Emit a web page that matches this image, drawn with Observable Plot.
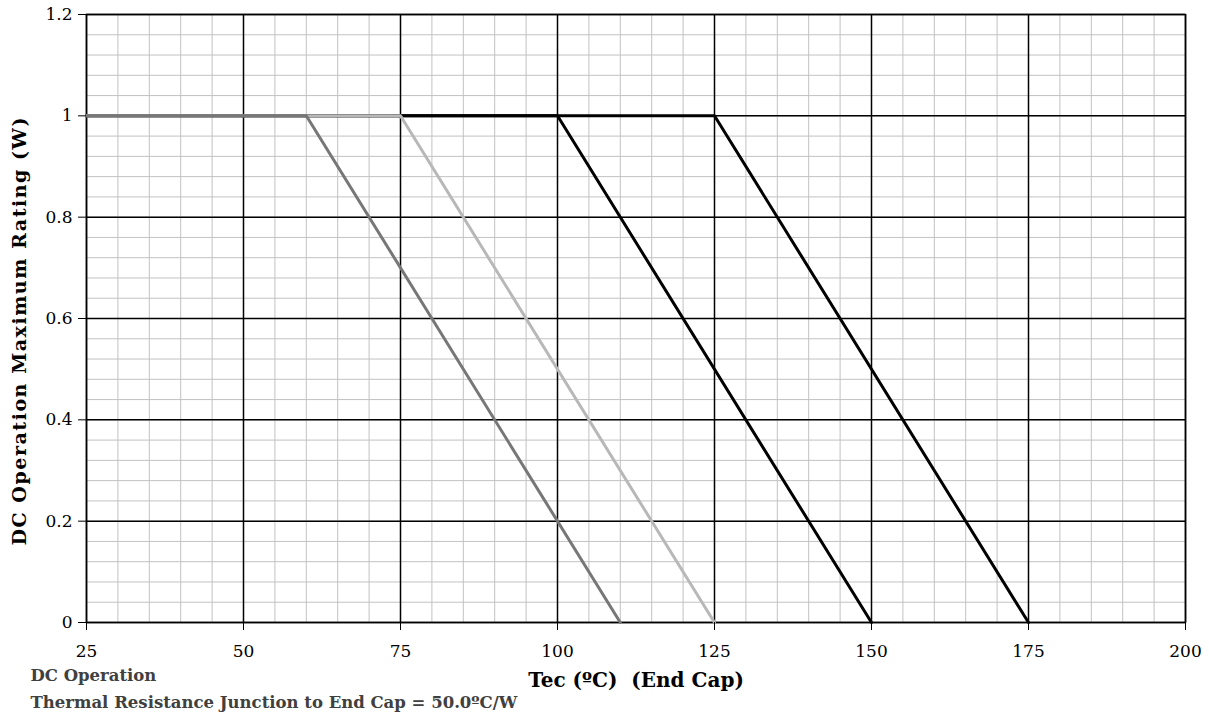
<!DOCTYPE html>
<html><head><meta charset="utf-8">
<script src="https://cdn.jsdelivr.net/npm/d3@7"></script>
<script src="https://cdn.jsdelivr.net/npm/@observablehq/plot@0.6"></script>
<style>body{margin:0;background:#fff}</style>
</head><body><div id="chart"></div>
<script>
const xTicks = [25, 50, 75, 100, 125, 150, 175, 200];
const yTicks = [0, 0.2, 0.4, 0.6, 0.8, 1, 1.2];
const xMinor = d3.range(25, 201, 5);
const yMinor = d3.range(0, 1.2001, 0.04);
const seriesA = [{x:25,y:1},{x:60,y:1},{x:110,y:0}];   // dark grey
const seriesB = [{x:25,y:1},{x:75,y:1},{x:125,y:0}];   // light grey
const seriesC = [{x:25,y:1},{x:100,y:1},{x:150,y:0}];  // black
const seriesD = [{x:25,y:1},{x:125,y:1},{x:175,y:0}];  // black
const xLabel = "Tec (ºC)  (End Cap)";
const yLabel = "DC Operation Maximum Rating (W)";
const footer = ["DC Operation", "Thermal Resistance Junction to End Cap = 50.0ºC/W"];
const font = "'DejaVu Serif', 'Liberation Serif', serif";
const fmt = d => String(+d.toFixed(1));

const chart = Plot.plot({
  width: 1209, height: 721,
  marginLeft: 86, marginRight: 24, marginTop: 14, marginBottom: 99,
  style: {fontFamily: font, fontSize: "17px", color: "#000", background: "#fff"},
  x: {domain: [25, 200]},
  y: {domain: [0, 1.2]},
  marks: [
    Plot.ruleX(xMinor, {stroke: "#c2c2c2", strokeWidth: 1}),
    Plot.ruleY(yMinor, {stroke: "#c2c2c2", strokeWidth: 1}),
    Plot.ruleX(xTicks, {stroke: "#000", strokeWidth: 1.5}),
    Plot.ruleY(yTicks, {stroke: "#000", strokeWidth: 1.5}),
    Plot.frame({stroke: "#000", strokeWidth: 1.5}),
    Plot.line(seriesD, {x: "x", y: "y", stroke: "#000", strokeWidth: 3}),
    Plot.line(seriesC, {x: "x", y: "y", stroke: "#000", strokeWidth: 3}),
    Plot.line(seriesB, {x: "x", y: "y", stroke: "#b8b8b8", strokeWidth: 3}),
    Plot.line(seriesA, {x: "x", y: "y", stroke: "#777777", strokeWidth: 3}),
    Plot.axisX({ticks: xTicks, tickSize: 8, tickPadding: 14, fontSize: 17, label: null, tickFormat: fmt}),
    Plot.axisY({ticks: yTicks, tickSize: 8, tickPadding: 6, fontSize: 17, label: null, tickFormat: fmt}),
    Plot.text([xLabel], {frameAnchor: "bottom", textAnchor: "middle", dy: 64, fontWeight: "bold", fontSize: 20, fill: "#000"}),
    Plot.text([yLabel], {frameAnchor: "left", textAnchor: "middle", dx: -67, dy: 13, rotate: -90, fontWeight: "bold", fontSize: 19, fill: "#000"}),
    Plot.text([footer[0]], {frameAnchor: "bottom-left", dx: -56, dy: 58, textAnchor: "start", fontWeight: "bold", fontSize: 16.5, fill: "#404040"}),
    Plot.text([footer[1]], {frameAnchor: "bottom-left", dx: -56, dy: 85, textAnchor: "start", fontWeight: "bold", fontSize: 16.5, fill: "#404040"})
  ]
});
document.getElementById("chart").appendChild(chart);
// fine-tune label lengths and preserve double spaces
chart.querySelectorAll("text").forEach(t => {
  if (t.textContent === xLabel) { t.style.whiteSpace = "pre"; t.setAttribute("xml:space", "preserve"); }
  if (t.textContent === yLabel) { t.setAttribute("textLength", 428); t.setAttribute("lengthAdjust", "spacing"); }
});
</script>
</body></html>
